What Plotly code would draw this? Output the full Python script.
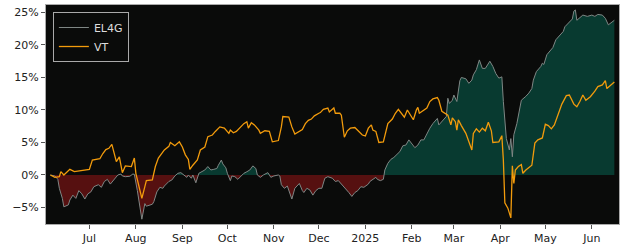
import numpy as np
import pandas as pd
import plotly.graph_objects as go

# ---------------- data (cumulative return, %) ----------------
vt_dates = [
    "2024-06-05", "2024-06-08", "2024-06-11", "2024-06-12", "2024-06-14", "2024-06-18", "2024-06-21",
    "2024-06-24", "2024-06-28", "2024-07-01", "2024-07-03", "2024-07-08", "2024-07-10", "2024-07-12",
    "2024-07-14", "2024-07-16", "2024-07-19", "2024-07-21", "2024-07-23", "2024-07-25", "2024-07-29",
    "2024-07-31", "2024-08-01", "2024-08-03", "2024-08-05", "2024-08-07", "2024-08-08", "2024-08-12",
    "2024-08-14", "2024-08-16", "2024-08-18", "2024-08-20", "2024-08-23", "2024-08-24", "2024-08-27",
    "2024-08-30", "2024-09-01", "2024-09-03", "2024-09-05", "2024-09-06", "2024-09-08", "2024-09-11",
    "2024-09-13", "2024-09-16", "2024-09-18", "2024-09-21", "2024-09-23", "2024-09-26", "2024-09-29",
    "2024-10-02", "2024-10-03", "2024-10-05", "2024-10-07", "2024-10-09", "2024-10-12", "2024-10-14",
    "2024-10-15", "2024-10-17", "2024-10-19", "2024-10-22", "2024-10-23", "2024-10-26", "2024-10-29",
    "2024-10-31", "2024-11-04", "2024-11-06", "2024-11-07", "2024-11-11", "2024-11-13", "2024-11-15",
    "2024-11-20", "2024-11-22", "2024-11-24", "2024-11-26", "2024-11-28", "2024-12-01", "2024-12-02",
    "2024-12-04", "2024-12-07", "2024-12-08", "2024-12-11", "2024-12-12", "2024-12-15", "2024-12-16",
    "2024-12-18", "2024-12-20", "2024-12-22", "2024-12-25", "2024-12-27", "2024-12-30", "2025-01-01",
    "2025-01-03", "2025-01-05", "2025-01-06", "2025-01-08", "2025-01-10", "2025-01-13", "2025-01-15",
    "2025-01-16", "2025-01-19", "2025-01-21", "2025-01-23", "2025-01-25", "2025-01-27", "2025-01-29",
    "2025-01-31", "2025-02-02", "2025-02-04", "2025-02-05", "2025-02-06", "2025-02-09", "2025-02-11",
    "2025-02-13", "2025-02-15", "2025-02-18", "2025-02-19", "2025-02-21", "2025-02-23", "2025-02-25",
    "2025-02-27", "2025-02-28", "2025-03-02", "2025-03-03", "2025-03-04", "2025-03-05", "2025-03-06",
    "2025-03-09", "2025-03-11", "2025-03-13", "2025-03-14", "2025-03-16", "2025-03-18", "2025-03-20",
    "2025-03-22", "2025-03-24", "2025-03-26", "2025-03-27", "2025-03-31", "2025-04-02", "2025-04-03",
    "2025-04-04", "2025-04-06", "2025-04-08", "2025-04-09", "2025-04-10", "2025-04-11", "2025-04-13",
    "2025-04-15", "2025-04-16", "2025-04-18", "2025-04-21", "2025-04-22", "2025-04-24", "2025-04-26",
    "2025-04-29", "2025-05-01", "2025-05-03", "2025-05-05", "2025-05-07", "2025-05-10", "2025-05-12",
    "2025-05-15", "2025-05-17", "2025-05-20", "2025-05-22", "2025-05-24", "2025-05-26", "2025-05-28",
    "2025-05-31", "2025-06-03", "2025-06-05", "2025-06-08", "2025-06-10", "2025-06-11", "2025-06-13",
    "2025-06-16",
]
vt_values = [
    0.0, -0.36, -0.26, 0.51, 0.0, 0.87, 0.51,
    0.6, 0.77, 0.87, 2.3, 2.5, 3.3, 3.9,
    4.1, 4.7, 2.05, 2.8, 0.36, 1.4, 1.3,
    2.6, 0.26, -1.8, -3.6, -1.8, -0.87, -0.77,
    1.3, 2.6, 3.3, 3.85, 4.4, 5.0, 4.5,
    5.1, 4.3, 3.1, 2.4, 0.87, 1.5, 2.3,
    3.85, 4.3, 5.9, 6.15, 6.7, 7.4, 7.2,
    6.4, 6.9, 6.5, 6.7, 7.2, 7.9, 8.2,
    7.2, 8.05, 7.7, 6.9, 6.4, 6.8, 6.7,
    5.1, 5.3, 7.4, 9.0, 8.9, 7.4, 6.3,
    7.0, 7.9, 8.4, 8.6, 9.1, 9.5, 9.6,
    10.1, 10.3, 9.7, 10.3, 9.5, 9.5, 9.2,
    5.8, 6.8, 7.2, 7.3, 6.8, 6.15, 6.0,
    7.2, 7.7, 6.9, 6.7, 5.0, 5.1, 6.9,
    7.9, 8.6, 9.5, 10.1, 9.5, 8.9, 10.0,
    9.3, 8.5, 10.0, 10.4, 9.5, 10.0, 10.3,
    11.3, 11.7, 11.9, 11.5, 9.8, 9.5, 9.2,
    7.7, 8.8, 8.2, 6.9, 8.5, 7.9, 7.6,
    6.4, 5.1, 3.85, 6.4, 7.1, 6.6, 7.2,
    6.8, 8.1, 6.8, 5.0, 5.1, 6.05, 2.3,
    -4.3, -5.1, -6.6, 1.4, -1.3, 0.77, 1.3,
    1.6, 0.26, 0.77, 1.3, 1.5, 4.9, 5.4,
    5.7, 7.8, 7.6, 7.1, 7.7, 9.7, 10.9,
    12.2, 12.3, 10.9, 10.5, 11.3, 12.3, 11.5,
    12.05, 12.9, 13.6, 13.85, 14.5, 13.3, 13.7,
    14.3,
]

el4g_dates = [
    "2024-06-05", "2024-06-08", "2024-06-10", "2024-06-11", "2024-06-13", "2024-06-14", "2024-06-17",
    "2024-06-18", "2024-06-20", "2024-06-22", "2024-06-24", "2024-06-26", "2024-06-28", "2024-06-30",
    "2024-07-02", "2024-07-04", "2024-07-07", "2024-07-09", "2024-07-11", "2024-07-13", "2024-07-15",
    "2024-07-18", "2024-07-20", "2024-07-22", "2024-07-23", "2024-07-25", "2024-07-28", "2024-07-30",
    "2024-07-31", "2024-08-02", "2024-08-04", "2024-08-05", "2024-08-07", "2024-08-08", "2024-08-12",
    "2024-08-13", "2024-08-15", "2024-08-17", "2024-08-19", "2024-08-20", "2024-08-23", "2024-08-25",
    "2024-08-27", "2024-08-29", "2024-08-31", "2024-09-02", "2024-09-04", "2024-09-05", "2024-09-07",
    "2024-09-08", "2024-09-10", "2024-09-12", "2024-09-14", "2024-09-16", "2024-09-18", "2024-09-20",
    "2024-09-22", "2024-09-24", "2024-09-25", "2024-09-27", "2024-09-28", "2024-09-30", "2024-10-01",
    "2024-10-03", "2024-10-04", "2024-10-06", "2024-10-08", "2024-10-10", "2024-10-12", "2024-10-14",
    "2024-10-16", "2024-10-18", "2024-10-20", "2024-10-21", "2024-10-23", "2024-10-25", "2024-10-28",
    "2024-10-30", "2024-11-01", "2024-11-04", "2024-11-05", "2024-11-06", "2024-11-08", "2024-11-10",
    "2024-11-11", "2024-11-13", "2024-11-15", "2024-11-16", "2024-11-18", "2024-11-20", "2024-11-21",
    "2024-11-23", "2024-11-25", "2024-11-27", "2024-11-29", "2024-12-01", "2024-12-03", "2024-12-05",
    "2024-12-07", "2024-12-10", "2024-12-12", "2024-12-14", "2024-12-16", "2024-12-19", "2024-12-21",
    "2024-12-23", "2024-12-25", "2024-12-27", "2024-12-29", "2024-12-31", "2025-01-03", "2025-01-04",
    "2025-01-06", "2025-01-08", "2025-01-09", "2025-01-11", "2025-01-13", "2025-01-14", "2025-01-16",
    "2025-01-18", "2025-01-20", "2025-01-22", "2025-01-24", "2025-01-26", "2025-01-28", "2025-01-30",
    "2025-02-01", "2025-02-03", "2025-02-05", "2025-02-07", "2025-02-09", "2025-02-11", "2025-02-13",
    "2025-02-15", "2025-02-18", "2025-02-19", "2025-02-21", "2025-02-23", "2025-02-24", "2025-02-25",
    "2025-02-26", "2025-02-28", "2025-03-01", "2025-03-03", "2025-03-05", "2025-03-06", "2025-03-09",
    "2025-03-11", "2025-03-13", "2025-03-14", "2025-03-16", "2025-03-18", "2025-03-20", "2025-03-22",
    "2025-03-25", "2025-03-27", "2025-03-29", "2025-03-31", "2025-04-02", "2025-04-03", "2025-04-04",
    "2025-04-05", "2025-04-07", "2025-04-08", "2025-04-09", "2025-04-10", "2025-04-12", "2025-04-14",
    "2025-04-15", "2025-04-18", "2025-04-20", "2025-04-22", "2025-04-23", "2025-04-25", "2025-04-28",
    "2025-04-29", "2025-04-30", "2025-05-02", "2025-05-04", "2025-05-06", "2025-05-08", "2025-05-10",
    "2025-05-13", "2025-05-14", "2025-05-16", "2025-05-19", "2025-05-20", "2025-05-21", "2025-05-22",
    "2025-05-24", "2025-05-26", "2025-05-29", "2025-06-01", "2025-06-03", "2025-06-05", "2025-06-08",
    "2025-06-10", "2025-06-12", "2025-06-14", "2025-06-16",
]
el4g_values = [
    0.0, -0.15, -0.67, -2.05, -3.6, -4.9, -4.6,
    -3.85, -3.1, -3.6, -2.4, -2.9, -3.7, -2.9,
    -2.6, -1.8, -1.5, -1.9, -1.0, -0.67, -1.4,
    -0.5, 0.0, 0.15, -0.15, -0.26, -0.2, 0.15,
    0.1, -2.4, -5.4, -6.8, -4.4, -4.8, -4.5,
    -4.1, -2.6, -1.9, -2.05, -1.7, -1.0, -0.77,
    -0.15, 0.26, 0.36, 0.0, -0.36, 0.0, -0.5,
    0.0, -1.2, 0.26, 0.5, 0.77, 1.3, 0.77,
    0.87, 1.0, 1.5, 2.3, 1.7, 1.1, 0.26,
    -0.87, -0.15, -0.26, -0.67, -0.15, 0.26, 0.5,
    0.77, 1.4, 1.0, 0.0, -0.36, 0.0, 0.36,
    -0.36, -0.15, 0.0, -0.15, -1.5, -2.05, -1.7,
    -2.3, -3.7, -2.05, -1.8, -1.3, -2.4, -2.7,
    -2.05, -2.3, -3.1, -2.4, -2.05, -2.05, -0.5,
    -0.26, -0.5, -1.0, -0.87, -1.4, -2.05, -2.7,
    -3.3, -2.7, -2.4, -1.8, -1.9, -1.4, -1.0,
    -0.67, -0.36, -0.67, -0.87, -0.67, 0.77, 1.8,
    2.4, 2.7, 3.1, 3.6, 4.5, 4.6, 5.4,
    4.7, 4.2, 4.6, 5.4, 5.4, 6.4, 7.2,
    7.9, 8.7, 7.7, 8.2, 8.7, 9.0, 11.8,
    11.0, 11.5, 12.3, 11.3, 14.5, 15.0, 14.8,
    14.1, 14.6, 15.4, 16.2, 17.7, 16.4, 16.4,
    17.5, 16.7, 15.6, 14.9, 15.1, 11.3, 8.7,
    5.6, 3.85, 5.6, 2.8, 6.2, 7.9, 10.0,
    11.5, 12.1, 12.6, 13.3, 14.6, 15.9, 16.7,
    17.2, 17.0, 18.5, 19.0, 19.6, 20.8, 21.3,
    22.1, 22.8, 23.3, 24.0, 25.2, 25.4, 23.8,
    24.2, 24.6, 24.4, 24.6, 24.4, 24.7, 24.6,
    24.1, 23.1, 23.5, 23.8,
]

month_ticks = ["2024-07-01", "2024-08-01", "2024-09-01", "2024-10-01", "2024-11-01", "2024-12-01",
               "2025-01-01", "2025-02-01", "2025-03-01", "2025-04-01", "2025-05-01", "2025-06-01"]
month_labels = ["Jul", "Aug", "Sep", "Oct", "Nov", "Dec", "2025", "Feb", "Mar", "Apr", "May", "Jun"]
y_ticks = [-5, 0, 5, 10, 15, 20, 25]
y_labels = ["−5%", "0%", "5%", "10%", "15%", "20%", "25%"]

# ---------------- split EL4G into positive / negative fills ----------------
t = pd.to_datetime(pd.Series(el4g_dates)).astype("int64").to_numpy().astype(float)
v = np.array(el4g_values, dtype=float)
xs, ys = [t[0]], [v[0]]
for i in range(1, len(v)):
    if (v[i - 1] > 0 and v[i] < 0) or (v[i - 1] < 0 and v[i] > 0):
        f = v[i - 1] / (v[i - 1] - v[i])
        xs.append(t[i - 1] + f * (t[i] - t[i - 1]))
        ys.append(0.0)
    xs.append(t[i])
    ys.append(v[i])
xs = pd.to_datetime(np.array(xs).astype("int64"))
ys = np.array(ys)
pos = np.maximum(ys, 0)
neg = np.minimum(ys, 0)

fig = go.Figure()
fig.add_trace(go.Scatter(x=xs, y=pos, mode="lines", line=dict(width=0), fill="tozeroy",
                         fillcolor="#083a30", showlegend=False, hoverinfo="skip"))
fig.add_trace(go.Scatter(x=xs, y=neg, mode="lines", line=dict(width=0), fill="tozeroy",
                         fillcolor="#561010", showlegend=False, hoverinfo="skip"))
fig.add_trace(go.Scatter(x=el4g_dates, y=el4g_values, mode="lines", name="EL4G",
                         line=dict(color="#7f8785", width=1)))
fig.add_trace(go.Scatter(x=vt_dates, y=vt_values, mode="lines", name="VT",
                         line=dict(color="#f29b0c", width=1.3)))

axis_common = dict(showgrid=False, zeroline=False, showline=True, mirror=True,
                   linecolor="#aaaaaa", linewidth=1, ticks="outside", ticklen=4,
                   tickcolor="#555555", tickfont=dict(family="DejaVu Sans", size=11, color="#222222"))

fig.update_layout(
    width=625, height=250,
    margin=dict(l=46, r=6, t=5, b=26),
    paper_bgcolor="white",
    plot_bgcolor="#0a0b0a",
    font=dict(family="DejaVu Sans", size=11),
    xaxis=dict(range=["2024-06-02 02:24", "2025-06-19 02:24"], tickvals=month_ticks,
               ticktext=month_labels, **axis_common),
    yaxis=dict(range=[-7.54, 26.15], tickvals=y_ticks, ticktext=y_labels, **axis_common),
    legend=dict(x=0.012, y=0.968, xanchor="left", yanchor="top", bgcolor="#0a0b0a",
                bordercolor="#aaaaaa", borderwidth=1,
                font=dict(family="DejaVu Sans", size=11, color="#dddddd"),
                tracegroupgap=2),
    showlegend=True,
)

fig.write_html("out.html")
